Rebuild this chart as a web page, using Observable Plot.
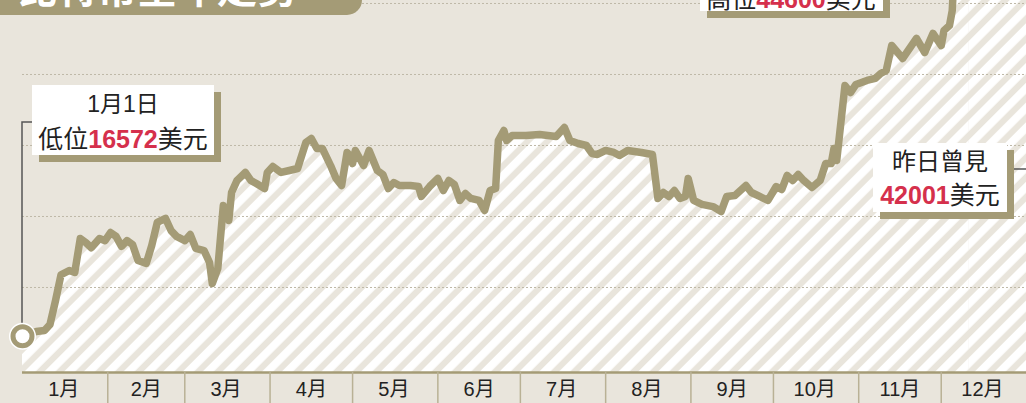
<!DOCTYPE html>
<html>
<head>
<meta charset="utf-8">
<script src="https://cdn.jsdelivr.net/npm/d3@7"></script>
<script src="https://cdn.jsdelivr.net/npm/@observablehq/plot@0.6"></script>
<style>
  html, body { margin: 0; padding: 0; background: #e9e5dc; overflow: hidden; }
  #chart svg { display: block; }
</style>
</head>
<body>
<div id="chart"></div>
<script>
// ---- data ----
const dates = [
  "2023-01-01","2023-01-06","2023-01-09","2023-01-11","2023-01-13","2023-01-15","2023-01-18","2023-01-20",
  "2023-01-22","2023-01-24","2023-01-26","2023-01-29","2023-01-31","2023-02-02","2023-02-04","2023-02-06",
  "2023-02-08","2023-02-10","2023-02-12","2023-02-15","2023-02-17","2023-02-19","2023-02-22","2023-02-24",
  "2023-02-26","2023-03-01","2023-03-03","2023-03-05","2023-03-08","2023-03-10","2023-03-11","2023-03-13",
  "2023-03-15","2023-03-17","2023-03-18","2023-03-20","2023-03-23","2023-03-25","2023-03-27","2023-03-30",
  "2023-03-31","2023-04-02","2023-04-05","2023-04-08","2023-04-11","2023-04-14","2023-04-16","2023-04-18",
  "2023-04-20","2023-04-23","2023-04-25","2023-04-27","2023-04-29","2023-04-30","2023-05-01","2023-05-02",
  "2023-05-05","2023-05-07","2023-05-10","2023-05-12","2023-05-14","2023-05-16","2023-05-18","2023-05-22",
  "2023-05-25","2023-05-26","2023-05-29","2023-06-01","2023-06-03","2023-06-05","2023-06-07","2023-06-09",
  "2023-06-11","2023-06-13","2023-06-16","2023-06-18","2023-06-20","2023-06-22","2023-06-23","2023-06-25",
  "2023-06-26","2023-06-28","2023-07-03","2023-07-08","2023-07-14","2023-07-17","2023-07-19","2023-07-22",
  "2023-07-25","2023-07-27","2023-07-29","2023-08-01","2023-08-04","2023-08-06","2023-08-09","2023-08-14",
  "2023-08-18","2023-08-20","2023-08-22","2023-08-24","2023-08-26","2023-08-28","2023-08-30","2023-08-31",
  "2023-09-02","2023-09-05","2023-09-09","2023-09-12","2023-09-14","2023-09-17","2023-09-21","2023-09-23",
  "2023-09-26","2023-09-29","2023-10-02","2023-10-04","2023-10-06","2023-10-08","2023-10-10","2023-10-12",
  "2023-10-15","2023-10-18","2023-10-20","2023-10-22","2023-10-23","2023-10-24","2023-10-27","2023-10-29",
  "2023-10-31","2023-11-04","2023-11-07","2023-11-09","2023-11-11","2023-11-13","2023-11-17","2023-11-22",
  "2023-11-25","2023-11-28","2023-12-01","2023-12-02","2023-12-04","2023-12-05","2023-12-06","2023-12-08",
  "2023-12-11"
];
const prices = [
  16572,16900,16970,17400,19080,20900,21200,21060,
  23450,23170,22800,23450,23300,23870,23600,22900,
  23300,23030,21900,21700,22960,24580,24860,24010,
  23600,23300,23730,22750,22600,21760,20280,21340,
  25770,24720,26690,27540,28100,27540,27320,26970,
  28100,28520,28100,28240,28380,30210,30490,29790,
  29790,28590,27680,27180,29510,29300,28730,29650,
  28590,29650,28240,27960,26970,27390,27180,27180,
  27110,26410,27110,27680,26830,27540,27250,26130,
  26620,26270,26130,25420,26830,26970,30350,31060,
  30350,30700,30700,30770,30630,31270,30350,30140,
  30000,29440,29370,29650,29510,29300,29650,29510,
  29370,26270,26690,26410,26830,26270,26410,27680,
  26130,25850,25700,25350,26410,26480,27180,26690,
  26410,26130,27110,26900,27890,27540,27960,27540,
  27040,27540,28730,28730,29790,28940,34230,33730,
  34300,34580,34720,35070,35280,37040,36130,37540,
  36550,37890,37040,38100,38450,39500,43500,44600,
  42001
];
const monthLabels = ["1月","2月","3月","4月","5月","6月","7月","8月","9月","10月","11月","12月"];
const monthStarts = ["2023-02-01","2023-03-01","2023-04-01","2023-05-01","2023-06-01","2023-07-01",
                     "2023-08-01","2023-09-01","2023-10-01","2023-11-01","2023-12-01"];
const monthMids = ["2023-01-16","2023-02-15","2023-03-16","2023-04-16","2023-05-16","2023-06-16",
                   "2023-07-16","2023-08-16","2023-09-16","2023-10-16","2023-11-16","2023-12-16"];
const gridValues = [20000, 25000, 30000, 35000, 40000];
const titleText = "比特幣全年走勢";
const lowLabel = {date: "2023-01-01", line1: "1月1日", pre: "低位", value: "16572", post: "美元"};
const highLabel = {pre: "高位", value: "44600", post: "美元"};
const lastLabel = {line1: "昨日曾見", value: "42001", post: "美元"};

// ---- build ----
const OLIVE = "#a49b76";
const RED = "#d5304c";
const INK = "#222";
const SANS = "'Liberation Sans','Noto Sans CJK TC',sans-serif";

const data = dates.map((d, i) => ({date: new Date(d), price: prices[i]}));
const xDomain = [new Date("2023-01-01"), new Date("2024-01-01")];
const yDomain = [14014, 40211];
const lastDate = data[data.length - 1].date;

const plot = Plot.plot({
  width: 1026,
  height: 403,
  marginLeft: 22,
  marginRight: 0,
  marginTop: 0,
  marginBottom: 31,
  x: {type: "utc", domain: xDomain, axis: null},
  y: {domain: yDomain, axis: null},
  style: {background: "#e9e5dc", fontFamily: SANS},
  marks: [
    Plot.areaY(data, {x: "date", y1: yDomain[0], y2: "price", fill: "url(#hatch)", clip: true}),
    Plot.rect([0], {x1: () => lastDate, x2: () => xDomain[1], y1: () => yDomain[0], y2: () => yDomain[1], fill: "url(#hatch)"}),
    Plot.ruleY(gridValues, {stroke: "#bfb9a7", strokeWidth: 1, strokeDasharray: "2,2"}),
    Plot.line(data, {x: "date", y: "price", stroke: OLIVE, strokeWidth: 7.5, strokeLinejoin: "round", strokeLinecap: "round", clip: true}),
    Plot.ruleY([yDomain[0]], {stroke: OLIVE, strokeWidth: 2.5}),
    Plot.axisX(monthStarts.map(d => new Date(d)), {tickSize: 32, tickFormat: () => "", stroke: "#b9b195", strokeWidth: 1.5}),
    Plot.text(monthLabels, {x: (d, i) => new Date(monthMids[i]), text: d => d, frameAnchor: "bottom", dy: 17, lineAnchor: "middle", fontSize: 20, fill: INK}),
    Plot.dot([lowLabel], {x: d => new Date(d.date), y: () => prices[0], r: 13.5, fill: "white", stroke: "none"}),
    Plot.dot([lowLabel], {x: d => new Date(d.date), y: () => prices[0], r: 9.5, fill: "white", stroke: OLIVE, strokeWidth: 5})
  ]
});

document.getElementById("chart").appendChild(plot);

const svg = d3.select(plot);
// hatch pattern
const defs = svg.insert("defs", ":first-child");
const pat = defs.append("pattern")
  .attr("id", "hatch")
  .attr("patternUnits", "userSpaceOnUse")
  .attr("width", 14).attr("height", 14)
  .attr("patternTransform", "rotate(45)");
pat.append("rect").attr("x", 0).attr("y", 0).attr("width", 7.8).attr("height", 14).attr("fill", "white");

const xs = plot.scale("x"), ys = plot.scale("y");
const ann = svg.append("g").attr("font-family", SANS);

// title box (top-left, cropped)
ann.append("rect").attr("x", -30).attr("y", -40).attr("width", 392).attr("height", 55).attr("rx", 15).attr("fill", OLIVE);
ann.append("text").attr("x", 17).attr("y", 3).attr("font-size", 40).attr("font-weight", "bold")
  .attr("text-anchor", "start")
  .attr("fill", "white").attr("font-family", "'Noto Sans CJK TC',sans-serif").text(titleText);

// leader for low label
const cx = xs.apply(new Date(lowLabel.date)), cy = ys.apply(prices[0]);
ann.append("path").attr("d", `M${cx + 11},122 H${cx} V${cy - 13}`).attr("fill", "none").attr("stroke", "#555").attr("stroke-width", 1.5);

function box(x, y, w, h) {
  ann.append("rect").attr("x", x + 7).attr("y", y + 7).attr("width", w).attr("height", h).attr("fill", OLIVE);
  ann.append("rect").attr("x", x).attr("y", y).attr("width", w).attr("height", h).attr("fill", "white");
}
function valueLine(xc, yb, size, pre, value, post) {
  const t = ann.append("text").attr("x", xc).attr("y", yb).attr("text-anchor", "middle").attr("font-size", size).attr("fill", INK);
  if (pre) t.append("tspan").text(pre);
  t.append("tspan").attr("fill", RED).attr("font-weight", "bold").text(value);
  t.append("tspan").text(post);
}

// low label
box(32, 85, 182, 70);
ann.append("text").attr("x", 123).attr("y", 112).attr("text-anchor", "middle").attr("font-size", 23).attr("fill", INK).text(lowLabel.line1);
valueLine(123, 148, 25, lowLabel.pre, lowLabel.value, lowLabel.post);

// high label (top, cropped)
box(700, -40, 183, 51);
valueLine(791, 8, 25, highLabel.pre, highLabel.value, highLabel.post);

// last label
ann.append("line").attr("x1", 1007).attr("x2", 1026).attr("y1", 169).attr("y2", 169).attr("stroke", "#555").attr("stroke-width", 1.5);
box(873, 143, 134, 69);
ann.append("text").attr("x", 940).attr("y", 170).attr("text-anchor", "middle").attr("font-size", 24).attr("fill", INK).text(lastLabel.line1);
valueLine(940, 204, 25, "", lastLabel.value, lastLabel.post);
</script>
</body>
</html>
